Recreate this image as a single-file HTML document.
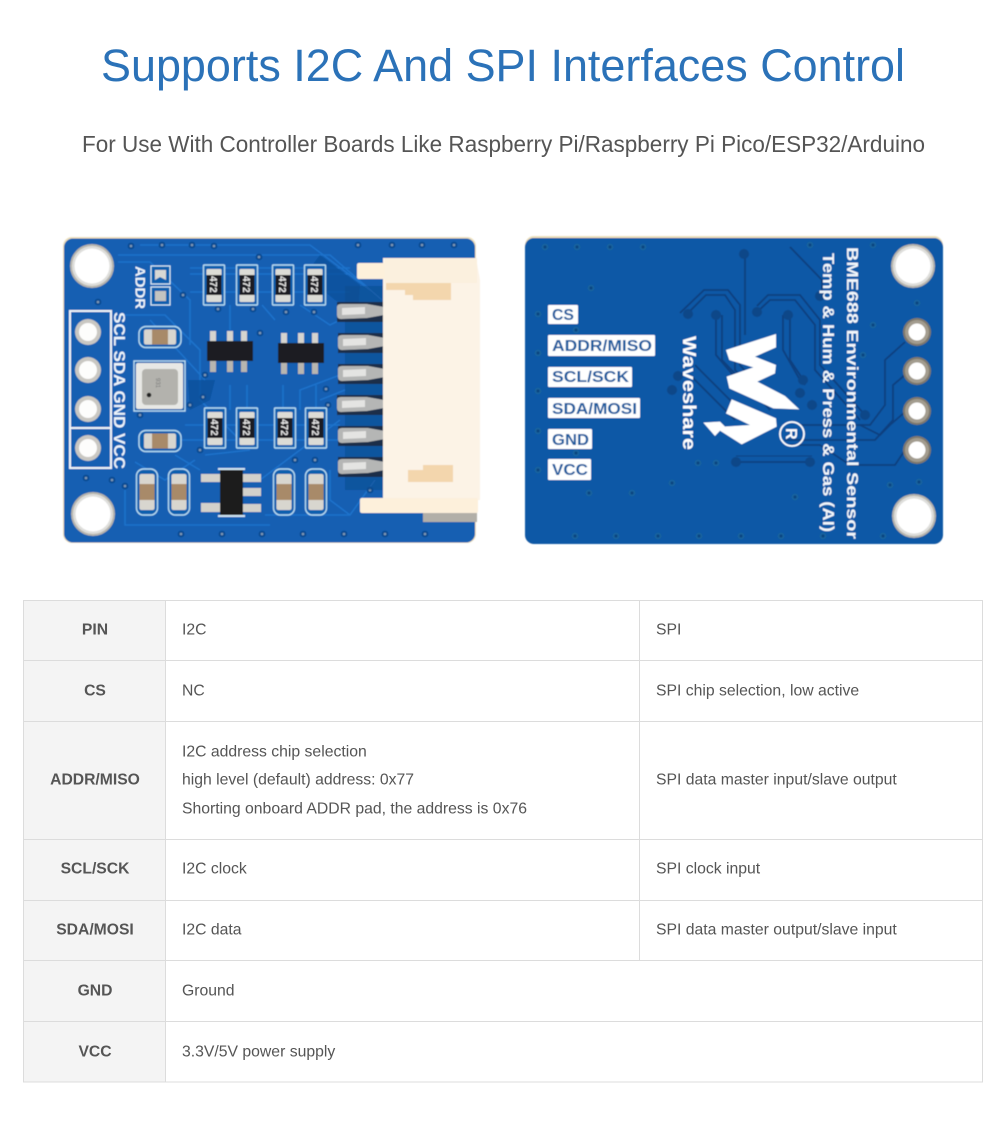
<!DOCTYPE html>
<html><head><meta charset="utf-8"><style>html,body{margin:0;padding:0;background:#fff}svg{display:block}</style></head>
<body>
<svg xmlns="http://www.w3.org/2000/svg" width="1007" height="1135" viewBox="0 0 1007 1135" font-family="'Liberation Sans',Arial,sans-serif">
<defs>
<filter id="b" x="-5%" y="-5%" width="110%" height="110%"><feGaussianBlur stdDeviation="0.55"/></filter>
<g id="via"><circle r="3.4" fill="#0d4c92"/><circle r="1.3" fill="#7f9ab3"/></g>
<g id="viaB"><circle r="3.4" fill="#17629f"/><circle r="1.5" fill="#0a447f"/></g>
<g id="res"><rect x="-10.5" y="-20" width="21" height="40" rx="1" fill="#115eae" stroke="#b6dcf2" stroke-width="1.400"/><rect x="-7.5" y="-16" width="15" height="33" rx="1" fill="#dcdcd6"/><rect x="-7.5" y="-10" width="15" height="20" fill="#1d1f22"/></g>
<g id="capV"><rect x="-10.5" y="-23" width="21" height="46" rx="7" fill="#115eae" stroke="#b6dcf2" stroke-width="1.400"/><rect x="-7.5" y="-18" width="15" height="36" rx="2" fill="#d8d6cf"/><rect x="-7.500" y="-8" width="15" height="16" fill="#a88a69"/></g>
<g id="capH"><rect x="-21" y="-10.5" width="42" height="21" rx="7" fill="#115eae" stroke="#b6dcf2" stroke-width="1.400"/><rect x="-16" y="-7.5" width="32" height="15" rx="2" fill="#d8d6cf"/><rect x="-8" y="-7.5" width="16" height="15" fill="#a88a69"/></g>
<g id="ic"><rect x="-20" y="-18" width="6" height="15" fill="#d6d4cf"/><rect x="-3" y="-18" width="6" height="15" fill="#d6d4cf"/><rect x="11" y="-18" width="6" height="15" fill="#d6d4cf"/><rect x="-20" y="6" width="6" height="17" fill="#b8b6b0"/><rect x="-3" y="6" width="6" height="17" fill="#b8b6b0"/><rect x="11" y="6" width="6" height="17" fill="#b8b6b0"/><rect x="-23" y="-8" width="46" height="20" fill="#1f1f21"/></g>
<g id="pin"><rect x="0" y="-10" width="47" height="20" fill="#1a2f4a"/><path d="M0-5 Q0-8 4-8 L30-8 L47-5 L47 3 L30 6 L4 7 Q0 7 0 3Z" fill="#b5b6b5"/><path d="M5-4 L28-5 L28 2 L5 3Z" fill="#e4e4e2"/></g>
<g id="hole"><circle r="22" fill="#b7b5ad"/><circle r="20" fill="#dededb"/><circle r="17.500" fill="#fff"/></g>
<g id="pad"><circle r="13" fill="#c9c7c2"/><circle r="9" fill="#fdfdfc"/></g>
<g id="padB"><circle r="14" fill="#7f796c"/><circle r="12" fill="#a39c8f"/><circle r="8.500" fill="#fff"/></g>
</defs>
<rect width="1007" height="1135" fill="#fff"/>

<text x="503" y="81" font-size="45" fill="#2b72b8" text-anchor="middle" textLength="804" lengthAdjust="spacingAndGlyphs">Supports I2C And SPI Interfaces Control</text>
<text x="503.500" y="152" font-size="23.500" fill="#555" text-anchor="middle" textLength="843" lengthAdjust="spacingAndGlyphs">For Use With Controller Boards Like Raspberry Pi/Raspberry Pi Pico/ESP32/Arduino</text>

<!-- LEFT BOARD -->
<g filter="url(#b)">
<rect x="63" y="237" width="413" height="306" rx="9" fill="#ede0bd"/>
<rect x="64" y="238.500" width="411" height="304" rx="9" fill="#125fb2"/>
<g fill="none" stroke="#1e72cb" stroke-width="1.600">
<path d="M118 262H150L190 300V345"/><path d="M118 255H330L382 300"/><path d="M140 245H310L370 290"/>
<path d="M125 315L165 315L200 350V400L240 440"/><path d="M150 320L205 380"/>
<path d="M190 268H350"/><path d="M190 274H350"/><path d="M190 292H350"/>
<path d="M230 305V330"/><path d="M262 305L275 320"/><path d="M300 305L330 325L340 320"/>
<path d="M340 375L300 390V410"/><path d="M345 390L320 400"/>
<path d="M230 385V410"/><path d="M247 385V410"/><path d="M283 385V410"/><path d="M316 385V410"/>
<path d="M185 425H340"/><path d="M180 440H350"/>
<path d="M135 462L165 480L195 460"/><path d="M175 455L200 470"/>
<path d="M125 490V525H270"/><path d="M260 480L340 420"/><path d="M265 515H350L375 480"/>
<path d="M330 470V500L350 515"/><path d="M205 455L250 450"/>
</g>
<g fill="#0c4f99" opacity=".7"><path d="M188 380H215L210 400L190 410Z"/><path d="M320 255L360 285L358 312L335 300L305 275Z"/></g>
<use href="#via" x="131" y="246"/><use href="#via" x="162" y="245"/><use href="#via" x="192" y="245"/><use href="#via" x="214" y="246"/><use href="#via" x="259" y="257"/><use href="#via" x="98" y="302"/><use href="#via" x="183" y="295"/><use href="#via" x="218" y="309"/><use href="#via" x="253" y="309"/><use href="#via" x="286" y="312"/><use href="#via" x="314" y="312"/><use href="#via" x="358" y="245"/><use href="#via" x="392" y="245"/><use href="#via" x="422" y="245"/><use href="#via" x="454" y="245"/><use href="#via" x="86" y="478"/><use href="#via" x="112" y="480"/><use href="#via" x="181" y="534"/><use href="#via" x="222" y="534"/><use href="#via" x="262" y="534"/><use href="#via" x="303" y="534"/><use href="#via" x="344" y="534"/><use href="#via" x="385" y="534"/><use href="#via" x="425" y="534"/><use href="#via" x="200" y="450"/><use href="#via" x="295" y="460"/><use href="#via" x="315" y="460"/><use href="#via" x="370" y="490"/><use href="#via" x="125" y="486"/>
<use href="#via" x="203" y="397"/><use href="#via" x="205" y="375"/><use href="#via" x="190" y="405"/><use href="#via" x="140" y="415"/><use href="#via" x="260" y="333"/><use href="#via" x="328" y="405"/><use href="#via" x="326" y="389"/>

<use href="#hole" x="92" y="266"/><use href="#hole" x="93" y="514"/>
<rect x="70" y="311" width="41" height="157" fill="none" stroke="#eef4f9" stroke-width="2"/><path d="M70 428H111" stroke="#eef4f9" stroke-width="2"/>
<use href="#pad" x="88" y="332"/><use href="#pad" x="88" y="370"/><use href="#pad" x="88" y="409"/><use href="#pad" x="88" y="448"/>
<text transform="translate(114,312) rotate(90)" font-size="15.500" font-weight="bold" fill="#eef5fb" textLength="157" lengthAdjust="spacingAndGlyphs">SCL SDA GND VCC</text>
<text transform="translate(135.500,266) rotate(90)" font-size="13.500" font-weight="bold" fill="#eef5fb" textLength="43" lengthAdjust="spacingAndGlyphs">ADDR</text>
<rect x="151" y="266" width="19" height="18" fill="#115eae" stroke="#d7e9f5" stroke-width="1.200"/><rect x="151" y="287" width="19" height="18" fill="#115eae" stroke="#d7e9f5" stroke-width="1.200"/>
<path d="M155 270H166V280L160 277L155 280Z" fill="#d8d8d4"/><path d="M155 291H166V301H155Z" fill="#c4c4c0"/>

<use href="#capH" x="160" y="337"/><use href="#capH" x="160" y="441"/>
<rect x="134" y="361" width="51" height="50" fill="#115eae" stroke="#b9dcf1" stroke-width="1.400"/><rect x="136" y="363" width="47" height="46" rx="2" fill="#e8e8e5"/><rect x="142" y="369" width="36" height="36" rx="4" fill="#b3b2ad"/><circle cx="149" cy="395" r="2.300" fill="#222"/>
<text transform="translate(156,378) rotate(90)" font-size="6" fill="#777">931</text>

<use href="#res" x="214" y="285"/><use href="#res" x="247" y="285"/><use href="#res" x="283" y="285"/><use href="#res" x="315" y="285"/>
<use href="#res" x="215" y="428"/><use href="#res" x="247" y="428"/><use href="#res" x="285" y="428"/><use href="#res" x="316" y="428"/>
<g font-size="10" font-weight="bold" fill="#e8e8e8">
<text transform="translate(210,276) rotate(90)">472</text><text transform="translate(243,276) rotate(90)">472</text><text transform="translate(279,276) rotate(90)">472</text><text transform="translate(311,276) rotate(90)">472</text>
<text transform="translate(211,419) rotate(90)">472</text><text transform="translate(243,419) rotate(90)">472</text><text transform="translate(281,419) rotate(90)">472</text><text transform="translate(312,419) rotate(90)">472</text>
</g>
<use href="#ic" x="230" y="349"/><use href="#ic" x="301" y="351"/>
<use href="#capV" x="147" y="492"/><use href="#capV" x="179" y="492"/><use href="#capV" x="284" y="492"/><use href="#capV" x="316" y="492"/>
<rect x="201" y="474" width="20" height="8" fill="#d3d1cb"/><rect x="201" y="503" width="20" height="9" fill="#d3d1cb"/><rect x="242" y="474" width="19" height="8" fill="#d3d1cb"/><rect x="242" y="488" width="19" height="8" fill="#d3d1cb"/><rect x="242" y="504" width="19" height="8" fill="#d3d1cb"/>
<rect x="218" y="468" width="27" height="2" fill="#cfe4f3"/><rect x="218" y="515" width="27" height="2" fill="#cfe4f3"/>
<rect x="220" y="470" width="23" height="45" fill="#1b1b1d"/>

<!-- connector -->
<rect x="423" y="497" width="54" height="25" fill="#b2afa8"/>
<path d="M345 286L383 286V490H345Z" fill="#0f4c8e" opacity=".55"/>
<use href="#pin" x="337" y="312"/><use href="#pin" x="338" y="343"/><use href="#pin" x="338" y="374"/><use href="#pin" x="337" y="405"/><use href="#pin" x="338" y="436"/><use href="#pin" x="338" y="467"/>
<path d="M383 258H476L480 280V500H383Z" fill="#fcf3e6"/>
<rect x="357" y="263" width="40" height="16" rx="2" fill="#fdf0db"/>
<rect x="385" y="258" width="92" height="25" fill="#fbf0de"/>
<rect x="360" y="498" width="118" height="15" rx="2" fill="#fdf0db"/>
<path d="M386 283H451V300H413V295H405V290H386Z" fill="#f3d6ad"/>
<path d="M408 470H423V465H453V482H408Z" fill="#f3d6ad"/>
<rect x="384" y="470" width="94" height="28" fill="none"/>
</g>

<!-- RIGHT BOARD -->
<g filter="url(#b)">
<rect x="525" y="236" width="418" height="308" rx="9" fill="#ede0bd"/>
<rect x="525" y="238" width="418" height="306" rx="9" fill="#0e59a6"/>
<g fill="none" stroke="#083f7f" stroke-width="1.800">
<path d="M688 313L706 295H725L735 310V370L770 410"/><path d="M680 313L704 290H728L740 305V365L775 405"/>
<path d="M716 315V355L750 395L780 400"/><path d="M722 315V360L760 400"/>
<path d="M745 255V335"/><path d="M790 247L822 280V295"/>
<path d="M757 312L770 300H795L815 325V370L860 420"/><path d="M757 306L768 295H800L820 320V365L865 415"/>
<path d="M790 315V360L800 375L805 385"/><path d="M783 315V350L800 380"/>
<path d="M905 342L885 360V405L870 425H800"/><path d="M905 375L893 385V420L875 440H785"/>
<path d="M905 412L890 425L880 435L860 425"/>
<path d="M905 450L895 465H850L820 445H790"/>
<path d="M736 462H812"/><path d="M736 456H812" stroke-width="1"/>
<path d="M695 365L740 410"/><path d="M690 375L735 420"/>
</g>
<g fill="#0b4688"><circle cx="688" cy="314" r="5"/><circle cx="716" cy="315" r="5"/><circle cx="678" cy="376" r="5"/><circle cx="672" cy="390" r="5"/><circle cx="736" cy="462" r="5"/><circle cx="810" cy="462" r="5"/><circle cx="757" cy="312" r="5"/><circle cx="788" cy="315" r="5"/><circle cx="744" cy="254" r="5"/><circle cx="820" cy="296" r="5"/><circle cx="865" cy="415" r="5"/><circle cx="803" cy="380" r="5"/><circle cx="800" cy="393" r="5"/><circle cx="812" cy="405" r="5"/></g>
<use href="#viaB" x="545" y="247"/><use href="#viaB" x="577" y="247"/><use href="#viaB" x="610" y="247"/><use href="#viaB" x="643" y="247"/><use href="#viaB" x="591" y="288"/><use href="#viaB" x="538" y="314"/><use href="#viaB" x="576" y="330"/><use href="#viaB" x="538" y="353"/><use href="#viaB" x="538" y="391"/><use href="#viaB" x="538" y="431"/><use href="#viaB" x="576" y="453"/><use href="#viaB" x="538" y="470"/><use href="#viaB" x="589" y="493"/><use href="#viaB" x="632" y="493"/><use href="#viaB" x="672" y="483"/><use href="#viaB" x="575" y="536"/><use href="#viaB" x="616" y="536"/><use href="#viaB" x="658" y="536"/><use href="#viaB" x="699" y="536"/><use href="#viaB" x="698" y="463"/><use href="#viaB" x="716" y="463"/><use href="#viaB" x="810" y="245"/><use href="#viaB" x="873" y="245"/><use href="#viaB" x="917" y="303"/><use href="#viaB" x="873" y="325"/><use href="#viaB" x="863" y="355"/><use href="#viaB" x="890" y="485"/><use href="#viaB" x="919" y="482"/><use href="#viaB" x="795" y="497"/><use href="#viaB" x="741" y="536"/><use href="#viaB" x="781" y="536"/><use href="#viaB" x="823" y="536"/><use href="#viaB" x="883" y="536"/>
<g fill="#fff"><rect x="548" y="305" width="30" height="19" rx="1"/><rect x="548" y="335" width="107" height="21" rx="1"/><rect x="548" y="367" width="84" height="20" rx="1"/><rect x="548" y="398" width="92" height="20" rx="1"/><rect x="548" y="429" width="44" height="20" rx="1"/><rect x="548" y="459" width="43" height="21" rx="1"/></g>
<g font-size="15.500" font-weight="bold" fill="#1c5c9e">
<text x="552" y="320" textLength="22" lengthAdjust="spacingAndGlyphs">CS</text>
<text x="552" y="351" textLength="100" lengthAdjust="spacingAndGlyphs">ADDR/MISO</text>
<text x="552" y="382" textLength="77" lengthAdjust="spacingAndGlyphs">SCL/SCK</text>
<text x="552" y="414" textLength="85" lengthAdjust="spacingAndGlyphs">SDA/MOSI</text>
<text x="552" y="445" textLength="37" lengthAdjust="spacingAndGlyphs">GND</text>
<text x="552" y="475" textLength="36" lengthAdjust="spacingAndGlyphs">VCC</text>
</g>
<text transform="translate(683,336) rotate(90)" font-size="18" font-weight="bold" fill="#fff" textLength="114" lengthAdjust="spacingAndGlyphs">Waveshare</text>
<g transform="translate(670,310) scale(.3333)" fill="#fff">
<path d="M318 72L168 120L178 150L250 172L170 200L178 235L310 295L388 298L345 258L262 215L315 190L318 165L255 140L318 112Z"/>
<path d="M185 268L168 310L240 345L165 350L150 335L100 338L135 378L150 362L215 403L320 350L318 325Z"/>
</g>
<circle cx="792" cy="434" r="12" fill="none" stroke="#fff" stroke-width="1.800"/>
<text x="786" y="440" font-size="16" fill="#fff" font-weight="bold" transform="rotate(90 792 434)">R</text>
<text transform="translate(847,247) rotate(90)" font-size="16" font-weight="bold" fill="#f3f7fb" textLength="292" lengthAdjust="spacingAndGlyphs">BME688 Environmental Sensor</text>
<text transform="translate(823,253) rotate(90)" font-size="16" font-weight="bold" fill="#f3f7fb" textLength="279" lengthAdjust="spacingAndGlyphs">Temp &amp; Hum &amp; Press &amp; Gas (AI)</text>
<use href="#hole" x="913" y="266"/><use href="#hole" x="914" y="516"/>
<use href="#padB" x="917" y="332"/><use href="#padB" x="917" y="371"/><use href="#padB" x="917" y="411"/><use href="#padB" x="917" y="450"/>
</g>

<!-- TABLE -->
<rect x="23.500" y="600.500" width="142" height="481.500" fill="#f4f4f4"/>
<g fill="none" stroke="#dcdcdc" stroke-width="1">
<rect x="23.500" y="600.500" width="959" height="481.500"/>
<path d="M165.500 600V1082M639.500 600V960M23 660.500H983M23 721.500H983M23 839.500H983M23 900.500H983M23 960.500H983M23 1021.500H983"/>
</g>
<g font-size="15.700" font-weight="bold" fill="#555" text-anchor="middle">
<text x="95" y="634.500">PIN</text><text x="95" y="695.500">CS</text><text x="95" y="784.500">ADDR/MISO</text><text x="95" y="873.500">SCL/SCK</text><text x="95" y="934.500">SDA/MOSI</text><text x="95" y="995.500">GND</text><text x="95" y="1056.500">VCC</text>
</g>
<g font-size="15.750" fill="#555">
<text x="182" y="634.500">I2C</text><text x="656" y="634.500">SPI</text>
<text x="182" y="695.500">NC</text><text x="656" y="695.500">SPI chip selection, low active</text>
<text x="182" y="756.500">I2C address chip selection</text>
<text x="182" y="784.500">high level (default) address: 0x77</text>
<text x="182" y="813.500">Shorting onboard ADDR pad, the address is 0x76</text>
<text x="656" y="784.500">SPI data master input/slave output</text>
<text x="182" y="873.500">I2C clock</text><text x="656" y="873.500">SPI clock input</text>
<text x="182" y="934.500">I2C data</text><text x="656" y="934.500">SPI data master output/slave input</text>
<text x="182" y="995.500">Ground</text>
<text x="182" y="1056.500">3.3V/5V power supply</text>
</g>
</svg>
</body></html>
